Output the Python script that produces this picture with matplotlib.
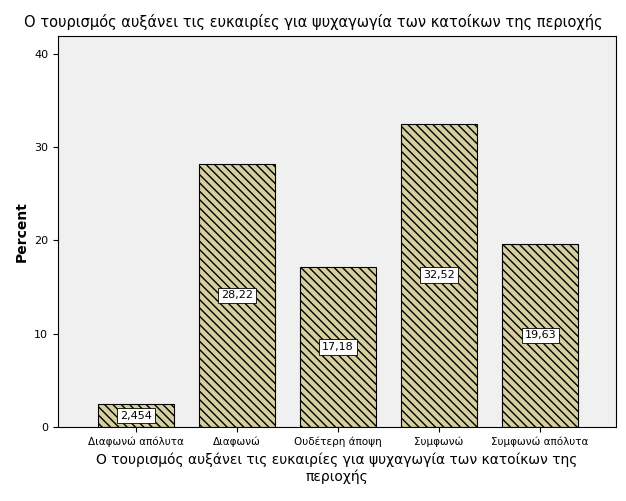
import matplotlib
matplotlib.use("Agg")
import matplotlib.pyplot as plt

categories = ["Διαφωνώ απόλυτα", "Διαφωνώ", "Ουδέτερη άποψη", "Συμφωνώ", "Συμφωνώ απόλυτα"]
values = [2.454, 28.22, 17.18, 32.52, 19.63]
labels = ["2,454", "28,22", "17,18", "32,52", "19,63"]
title = "Ο τουρισμός αυξάνει τις ευκαιρίες για ψυχαγωγία των κατοίκων της περιοχής"
xlabel = "Ο τουρισμός αυξάνει τις ευκαιρίες για ψυχαγωγία των κατοίκων της\nπεριοχής"

plt.rcParams['hatch.linewidth'] = 1.0
plt.rcParams['hatch.color'] = '#2a2a2a'
fig = plt.figure(figsize=(6.26, 5.01), dpi=100)
ax = fig.add_axes([58/626, 1-427/501, 558/626, 391/501])
ax.set_facecolor('#f0f0f0')
x = list(range(len(categories)))
ax.bar(x, values, width=0.75, color='#d6cf9f', edgecolor='black', linewidth=0.8, hatch='\\\\\\\\')
for xi, v, l in zip(x, values, labels):
    ax.text(xi, v/2, l, ha='center', va='center', fontsize=8,
            bbox=dict(facecolor='white', edgecolor='black', linewidth=0.6, pad=2))
ax.set_xlim(-0.77, 4.75)
ax.set_ylim(0, 41.9)
ax.set_yticks([0, 10, 20, 30, 40])
ax.set_xticks(x)
ax.set_xticklabels(categories, fontsize=7.5)
ax.tick_params(axis='y', labelsize=8)
ax.set_ylabel("Percent", fontsize=10, fontweight='bold')
ax.set_xlabel(xlabel, fontsize=10)
fig.text(0.5, 1-22/501, title, ha='center', va='center', fontsize=10.5)
fig.savefig("out.png", dpi=100)
